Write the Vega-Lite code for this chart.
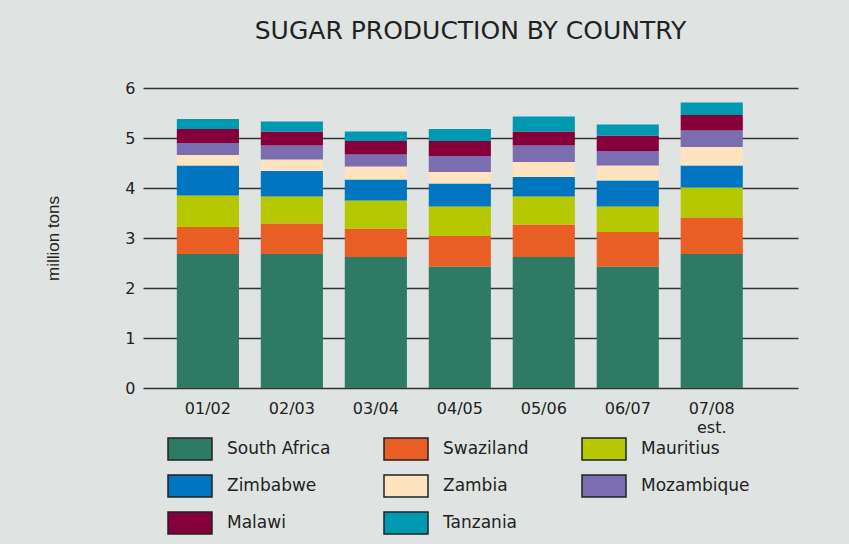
{
  "$schema": "https://vega.github.io/schema/vega-lite/v6.json",
  "autosize": "none",
  "width": 655,
  "height": 300,
  "padding": {"left": 143, "top": 88, "right": 51, "bottom": 156},
  "background": "#dfe4e2",
  "title": {"text": "SUGAR PRODUCTION BY COUNTRY", "anchor": "middle", "font": "DejaVu Sans", "fontSize": 25, "fontWeight": "normal", "color": "#222222", "offset": 36},
  "data": {"values": [
    {"season": "01/02", "country": "South Africa", "value": 2.68},
    {"season": "01/02", "country": "Swaziland", "value": 0.54},
    {"season": "01/02", "country": "Mauritius", "value": 0.63},
    {"season": "01/02", "country": "Zimbabwe", "value": 0.60},
    {"season": "01/02", "country": "Zambia", "value": 0.21},
    {"season": "01/02", "country": "Mozambique", "value": 0.24},
    {"season": "01/02", "country": "Malawi", "value": 0.28},
    {"season": "01/02", "country": "Tanzania", "value": 0.20},
    {"season": "02/03", "country": "South Africa", "value": 2.68},
    {"season": "02/03", "country": "Swaziland", "value": 0.61},
    {"season": "02/03", "country": "Mauritius", "value": 0.54},
    {"season": "02/03", "country": "Zimbabwe", "value": 0.51},
    {"season": "02/03", "country": "Zambia", "value": 0.23},
    {"season": "02/03", "country": "Mozambique", "value": 0.28},
    {"season": "02/03", "country": "Malawi", "value": 0.28},
    {"season": "02/03", "country": "Tanzania", "value": 0.20},
    {"season": "03/04", "country": "South Africa", "value": 2.62},
    {"season": "03/04", "country": "Swaziland", "value": 0.57},
    {"season": "03/04", "country": "Mauritius", "value": 0.56},
    {"season": "03/04", "country": "Zimbabwe", "value": 0.42},
    {"season": "03/04", "country": "Zambia", "value": 0.26},
    {"season": "03/04", "country": "Mozambique", "value": 0.24},
    {"season": "03/04", "country": "Malawi", "value": 0.27},
    {"season": "03/04", "country": "Tanzania", "value": 0.19},
    {"season": "04/05", "country": "South Africa", "value": 2.43},
    {"season": "04/05", "country": "Swaziland", "value": 0.61},
    {"season": "04/05", "country": "Mauritius", "value": 0.59},
    {"season": "04/05", "country": "Zimbabwe", "value": 0.46},
    {"season": "04/05", "country": "Zambia", "value": 0.23},
    {"season": "04/05", "country": "Mozambique", "value": 0.32},
    {"season": "04/05", "country": "Malawi", "value": 0.30},
    {"season": "04/05", "country": "Tanzania", "value": 0.24},
    {"season": "05/06", "country": "South Africa", "value": 2.62},
    {"season": "05/06", "country": "Swaziland", "value": 0.65},
    {"season": "05/06", "country": "Mauritius", "value": 0.56},
    {"season": "05/06", "country": "Zimbabwe", "value": 0.39},
    {"season": "05/06", "country": "Zambia", "value": 0.30},
    {"season": "05/06", "country": "Mozambique", "value": 0.33},
    {"season": "05/06", "country": "Malawi", "value": 0.28},
    {"season": "05/06", "country": "Tanzania", "value": 0.30},
    {"season": "06/07", "country": "South Africa", "value": 2.43},
    {"season": "06/07", "country": "Swaziland", "value": 0.69},
    {"season": "06/07", "country": "Mauritius", "value": 0.51},
    {"season": "06/07", "country": "Zimbabwe", "value": 0.52},
    {"season": "06/07", "country": "Zambia", "value": 0.30},
    {"season": "06/07", "country": "Mozambique", "value": 0.29},
    {"season": "06/07", "country": "Malawi", "value": 0.31},
    {"season": "06/07", "country": "Tanzania", "value": 0.22},
    {"season": "07/08 est.", "country": "South Africa", "value": 2.68},
    {"season": "07/08 est.", "country": "Swaziland", "value": 0.73},
    {"season": "07/08 est.", "country": "Mauritius", "value": 0.60},
    {"season": "07/08 est.", "country": "Zimbabwe", "value": 0.44},
    {"season": "07/08 est.", "country": "Zambia", "value": 0.37},
    {"season": "07/08 est.", "country": "Mozambique", "value": 0.33},
    {"season": "07/08 est.", "country": "Malawi", "value": 0.31},
    {"season": "07/08 est.", "country": "Tanzania", "value": 0.25}
  ]},
  "transform": [
    {"calculate": "indexof(['South Africa', 'Swaziland', 'Mauritius', 'Zimbabwe', 'Zambia', 'Mozambique', 'Malawi', 'Tanzania'], datum.country)", "as": "stackRank"}
  ],
  "mark": {"type": "bar"},
  "encoding": {
    "x": {
      "field": "season", "type": "nominal", "sort": null,
      "scale": {"paddingInner": 0.26, "paddingOuter": 0.53, "align": 0.38},
      "axis": {"title": null, "labelAngle": 0, "domain": false, "ticks": false, "labelPadding": 12, "labelFont": "DejaVu Sans", "labelFontSize": 16, "labelColor": "#222222", "labelLineHeight": 19,
               "labelExpr": "datum.value == '07/08 est.' ? ['07/08', '\u00a0\u00a0\u00a0\u00a0\u00a0\u00a0est.'] : datum.value"}
    },
    "y": {
      "field": "value", "type": "quantitative", "stack": "zero",
      "scale": {"domain": [0, 6]},
      "axis": {"title": "million tons", "titleFont": "Liberation Sans", "titleFontSize": 17, "titleFontWeight": "normal", "titleColor": "#222222", "titlePadding": 62,
               "values": [0, 1, 2, 3, 4, 5, 6], "domain": false, "ticks": false, "grid": true, "gridColor": "#333333", "gridWidth": 1.6, "gridOpacity": 1,
               "labelFont": "DejaVu Sans", "labelFontSize": 16, "labelColor": "#222222", "labelPadding": 8}
    },
    "color": {
      "field": "country", "type": "nominal",
      "sort": ["South Africa", "Swaziland", "Mauritius", "Zimbabwe", "Zambia", "Mozambique", "Malawi", "Tanzania"],
      "scale": {"domain": ["South Africa", "Swaziland", "Mauritius", "Zimbabwe", "Zambia", "Mozambique", "Malawi", "Tanzania"],
                "range": ["#2f7a64", "#e85e24", "#b5c800", "#0075c0", "#fde3c0", "#7a6db0", "#85003a", "#0099b2"]},
      "legend": {"title": null, "orient": "none", "legendX": 24, "legendY": 338, "columns": 3, "direction": "horizontal",
                 "symbolType": "M-1,-0.5H1V0.5H-1Z", "symbolSize": 1936, "symbolStrokeColor": "#222222", "symbolStrokeWidth": 1.5, "symbolOpacity": 1,
                 "labelFont": "DejaVu Sans", "labelFontSize": 17, "labelColor": "#222222", "labelOffset": 14, "rowPadding": -12, "columnPadding": 50, "labelLimit": 300}
    },
    "order": {"field": "stackRank", "type": "quantitative", "sort": "ascending"}
  },
  "config": {"view": {"stroke": null}}
}
